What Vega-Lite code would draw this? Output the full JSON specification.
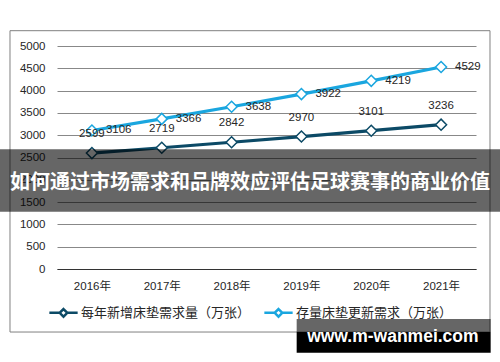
{
  "$schema": "https://vega.github.io/schema/vega-lite/v6.json",
  "autosize": {"type": "none"},
  "width": 419,
  "height": 223,
  "padding": {"left": 57, "top": 46, "right": 24, "bottom": 93},
  "background": "white",
  "config": {"view": {"stroke": null}},
  "datasets": {
    "demand": [
      {"year": "2016年", "series": "每年新增床垫需求量（万张）", "value": 2599},
      {"year": "2017年", "series": "每年新增床垫需求量（万张）", "value": 2719},
      {"year": "2018年", "series": "每年新增床垫需求量（万张）", "value": 2842},
      {"year": "2019年", "series": "每年新增床垫需求量（万张）", "value": 2970},
      {"year": "2020年", "series": "每年新增床垫需求量（万张）", "value": 3101},
      {"year": "2021年", "series": "每年新增床垫需求量（万张）", "value": 3236},
      {"year": "2016年", "series": "存量床垫更新需求（万张）", "value": 3106},
      {"year": "2017年", "series": "存量床垫更新需求（万张）", "value": 3366},
      {"year": "2018年", "series": "存量床垫更新需求（万张）", "value": 3638},
      {"year": "2019年", "series": "存量床垫更新需求（万张）", "value": 3922},
      {"year": "2020年", "series": "存量床垫更新需求（万张）", "value": 4219},
      {"year": "2021年", "series": "存量床垫更新需求（万张）", "value": 4529}
    ]
  },
  "resolve": {"scale": {"x": "independent"}, "axis": {"y": "independent"}},
  "layer": [
    {
      "data": {"name": "demand"},
      "encoding": {
        "x": {
          "field": "year",
          "type": "ordinal",
          "scale": {"paddingInner": 0, "paddingOuter": 0},
          "axis": {
            "title": null,
            "labelAngle": 0,
            "ticks": false,
            "grid": false,
            "domain": true,
            "domainColor": "#333333",
            "domainWidth": 1,
            "labelPadding": 11,
            "labelFont": "Liberation Sans, Noto Sans CJK SC",
            "labelFontSize": 11.5,
            "labelColor": "#262626"
          }
        },
        "y": {
          "field": "value",
          "type": "quantitative",
          "scale": {"domain": [0, 5000], "nice": false, "zero": false},
          "axis": {
            "title": null,
            "values": [0, 500, 1000, 1500, 2000, 2500, 3000, 3500, 4000, 4500, 5000],
            "format": "d",
            "labelOverlap": false,
            "labelFlush": false,
            "ticks": false,
            "domain": false,
            "grid": true,
            "gridColor": "#888888",
            "gridWidth": 1,
            "labelPadding": 12,
            "labelFont": "Liberation Sans",
            "labelFontSize": 11.5,
            "labelColor": "#262626"
          }
        },
        "stroke": {
          "field": "series",
          "type": "nominal",
          "sort": ["每年新增床垫需求量（万张）", "存量床垫更新需求（万张）"],
          "scale": {
            "domain": ["每年新增床垫需求量（万张）", "存量床垫更新需求（万张）"],
            "range": ["#0c4a66", "#1aa6df"]
          },
          "legend": {
            "title": null,
            "orient": "none",
            "direction": "horizontal",
            "legendX": -9,
            "legendY": 251,
            "symbolType": "M-1,0L-0.27,0M0.27,0L1,0M0,-0.27L0.27,0L0,0.27L-0.27,0Z",
            "symbolSize": 800,
            "symbolStrokeWidth": 2.5,
            "symbolFillColor": "white",
            "labelFont": "Noto Sans CJK SC",
            "labelFontSize": 13,
            "labelColor": "#262626",
            "labelOffset": 2,
            "labelLimit": 300,
            "columnPadding": 8,
            "encode": {"symbols": {"update": {"fill": {"value": "white"}, "strokeWidth": {"value": 2.5}}}}
          }
        }
      },
      "layer": [
        {"mark": {"type": "line", "strokeWidth": 3.2}},
        {"mark": {"type": "point", "shape": "diamond", "filled": true, "fill": "white", "size": 121, "strokeWidth": 1.5, "opacity": 1}},
        {
          "transform": [{"filter": "datum.series === '每年新增床垫需求量（万张）'"}],
          "mark": {"type": "text", "dy": -19, "align": "center", "baseline": "middle", "font": "Liberation Sans", "fontSize": 11.5, "color": "#262626"},
          "encoding": {"text": {"field": "value", "type": "quantitative"}, "stroke": {"value": null}}
        },
        {
          "transform": [{"filter": "datum.series === '存量床垫更新需求（万张）'"}],
          "mark": {"type": "text", "dx": 14, "align": "left", "baseline": "middle", "font": "Liberation Sans", "fontSize": 11.5, "color": "#262626"},
          "encoding": {"text": {"field": "value", "type": "quantitative"}, "stroke": {"value": null}}
        }
      ]
    },
    {
      "data": {"values": [{"caption": "如何通过市场需求和品牌效应评估足球赛事的商业价值", "site": "www.m-wanmei.com"}]},
      "layer": [
        {
          "mark": {"type": "rect", "fill": null, "stroke": "#808080", "strokeWidth": 1},
          "encoding": {
            "x": {"datum": -0.1122, "type": "quantitative", "scale": {"domain": [0, 1]}, "axis": null},
            "x2": {"datum": 1.0334},
            "y": {"datum": 5343, "type": "quantitative", "axis": null},
            "y2": {"datum": -1413}
          }
        },
        {
          "mark": {"type": "rect", "fill": "black", "opacity": 0.6},
          "encoding": {
            "x": {"datum": -0.137, "type": "quantitative", "scale": {"domain": [0, 1]}, "axis": null},
            "x2": {"datum": 1.06},
            "y": {"datum": 2684, "type": "quantitative", "axis": null},
            "y2": {"datum": 1285}
          }
        },
        {
          "mark": {"type": "text", "align": "center", "baseline": "middle", "font": "Noto Sans CJK SC", "fontWeight": "bold", "fontSize": 20, "color": "white"},
          "encoding": {
            "x": {"datum": 0.4606, "type": "quantitative", "scale": {"domain": [0, 1]}, "axis": null},
            "y": {"datum": 1921, "type": "quantitative", "axis": null},
            "text": {"field": "caption"}
          }
        },
        {
          "mark": {"type": "rect", "fill": "black", "opacity": 0.6},
          "encoding": {
            "x": {"datum": 0.572, "type": "quantitative", "scale": {"domain": [0, 1]}, "axis": null},
            "x2": {"datum": 1.035},
            "y": {"datum": -1121, "type": "quantitative", "axis": null},
            "y2": {"datum": -1406}
          }
        },
        {
          "mark": {"type": "rect", "fill": "black", "opacity": 1},
          "encoding": {
            "x": {"datum": 0.572, "type": "quantitative", "scale": {"domain": [0, 1]}, "axis": null},
            "x2": {"datum": 1.035},
            "y": {"datum": -1406, "type": "quantitative", "axis": null},
            "y2": {"datum": -1877}
          }
        },
        {
          "mark": {"type": "text", "align": "center", "baseline": "alphabetic", "font": "Liberation Sans", "fontWeight": "bold", "fontSize": 17.5, "color": "white"},
          "encoding": {
            "x": {"datum": 0.8016, "type": "quantitative", "scale": {"domain": [0, 1]}, "axis": null},
            "y": {"datum": -1630, "type": "quantitative", "axis": null},
            "text": {"field": "site"}
          }
        }
      ]
    }
  ]
}
